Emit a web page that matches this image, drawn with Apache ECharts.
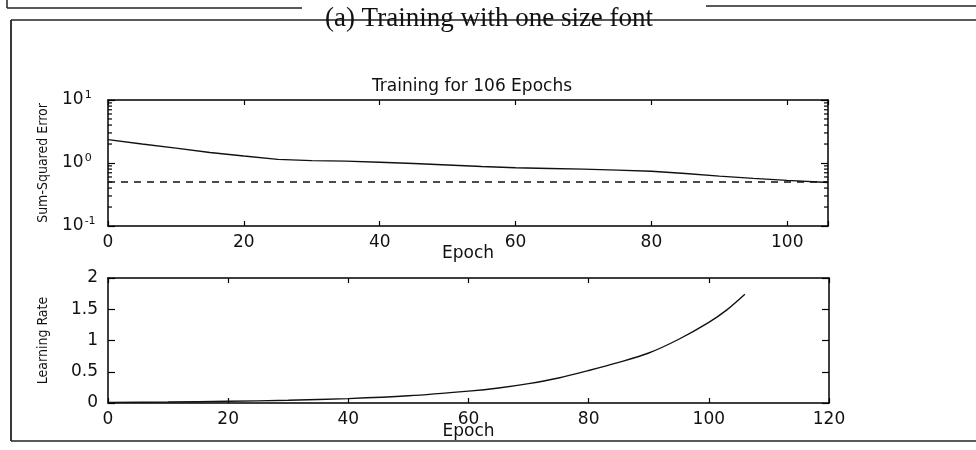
<!DOCTYPE html>
<html>
<head>
<meta charset="utf-8">
<script src="https://cdn.jsdelivr.net/npm/echarts@6/dist/echarts.min.js"></script>
<style>
html,body{margin:0;padding:0;background:#fff;}
#chart{width:976px;height:450px;}
</style>
</head>
<body>
<div id="chart"></div>
<script>
// ---- data ----
const headerText = '(a) Training with one size font';
const titleText = 'Training for 106 Epochs';
const sseEpochs = [0, 5, 10, 15, 20, 25, 30, 35, 40, 45, 50, 55, 60, 65, 70, 75, 80, 85, 90, 95, 100, 106];
const sseValues = [2.35, 2.0, 1.72, 1.47, 1.29, 1.14, 1.09, 1.07, 1.03, 0.98, 0.93, 0.88, 0.84, 0.82, 0.80, 0.77, 0.74, 0.68, 0.62, 0.57, 0.53, 0.49];
const goalEpochs = [0, 106];
const goalValues = [0.5, 0.5];
const lrEpochs = [0, 10, 20, 30, 40, 50, 60, 65, 70, 75, 80, 85, 90, 95, 100, 103, 106];
const lrValues = [0.01, 0.016, 0.027, 0.043, 0.07, 0.115, 0.19, 0.24, 0.31, 0.40, 0.52, 0.65, 0.80, 1.02, 1.29, 1.49, 1.74];
const minorTickValues = [0.2, 0.3, 0.4, 0.5, 0.6, 0.7, 0.8, 0.9, 2, 3, 4, 5, 6, 7, 8, 9];
const topXRange = [0, 106];
const bottomXRange = [0, 120];
const xTickStep = 20;
const lrRange = [0, 2];
const lrTickStep = 0.5;
const sseRange = [0.1, 10];

const zip = (a, b) => a.map((v, i) => [v, b[i]]);
const INK = '#111';
const tickFont = 'DejaVu Sans';
const nameFont = "'Liberation Sans Narrow', 'DejaVu Sans Condensed', 'Arial Narrow', sans-serif";
const axisLineStyle = { color: '#000', width: 1.5 };

function xAxisBase(grid, range, pos, showLabels) {
  const a = {
    gridIndex: grid, type: 'value', min: range[0], max: range[1], interval: xTickStep,
    position: pos,
    axisLine: { show: true, onZero: false, lineStyle: axisLineStyle },
    axisTick: { show: true, inside: true, length: 5, lineStyle: { color: '#000', width: 1.2 } },
    axisLabel: {
      show: showLabels, margin: 8, fontSize: 17, fontFamily: tickFont, color: INK,
      formatter: v => (v % xTickStep === 0 ? String(v) : '')
    },
    splitLine: { show: false }
  };
  if (showLabels) {
    a.name = 'Epoch';
    a.nameLocation = 'middle';
    a.nameMoveOverlap = false;
    a.nameTextStyle = { fontSize: 17, fontFamily: tickFont, color: INK };
  }
  return a;
}

const x0 = xAxisBase(0, topXRange, 'bottom', true); x0.nameGap = 19;
const x1 = xAxisBase(0, topXRange, 'top', false);
const x2 = xAxisBase(1, bottomXRange, 'bottom', true); x2.nameGap = 20;
const x3 = xAxisBase(1, bottomXRange, 'top', false);

const chart = echarts.init(document.getElementById('chart'), null, { renderer: 'canvas' });

const option = {
  animation: false,
  backgroundColor: '#fff',
  title: [
    { text: headerText, left: 484, top: 0, textAlign: 'center',
      textStyle: { fontFamily: "'Liberation Serif', serif", fontSize: 27, fontWeight: 'normal', color: INK } },
    { text: titleText, left: 467, top: 73, textAlign: 'center',
      textStyle: { fontFamily: tickFont, fontSize: 17, fontWeight: 'normal', color: INK } }
  ],
  grid: [
    { left: 108, top: 100, width: 720, height: 126 },
    { left: 108, top: 278, width: 721, height: 125 }
  ],
  xAxis: [x0, x1, x2, x3],
  yAxis: [
    {
      gridIndex: 0, type: 'log', logBase: 10, min: sseRange[0], max: sseRange[1], position: 'left',
      axisLine: { show: true, onZero: false, lineStyle: axisLineStyle },
      axisTick: { show: true, inside: true, length: 7, lineStyle: { color: '#000', width: 1.2 } },
      axisLabel: {
        margin: 46, align: 'left', color: INK,
        formatter: v => '{b|10}{s|' + Math.round(Math.log10(v)) + '}',
        rich: {
          b: { fontSize: 17, fontFamily: tickFont, color: INK },
          s: { fontSize: 11, fontFamily: tickFont, color: INK, padding: [0, 0, 9, 1] }
        }
      },
      splitLine: { show: false },
      name: 'Sum-Squared Error', nameLocation: 'middle', nameGap: 58, nameRotate: 90, nameMoveOverlap: false,
      nameTextStyle: { fontSize: 14, fontFamily: nameFont, color: INK }
    },
    {
      gridIndex: 0, type: 'log', logBase: 10, min: sseRange[0], max: sseRange[1], position: 'right',
      axisLine: { show: true, onZero: false, lineStyle: axisLineStyle },
      axisTick: { show: true, inside: true, length: 7, lineStyle: { color: '#000', width: 1.2 } },
      axisLabel: { show: false }, splitLine: { show: false }
    },
    {
      gridIndex: 1, type: 'value', min: lrRange[0], max: lrRange[1], interval: lrTickStep, position: 'left',
      axisLine: { show: true, onZero: false, lineStyle: axisLineStyle },
      axisTick: { show: true, inside: true, length: 7, lineStyle: { color: '#000', width: 1.2 } },
      axisLabel: { margin: 10, fontSize: 17, fontFamily: tickFont, color: INK },
      splitLine: { show: false },
      name: 'Learning Rate', nameLocation: 'middle', nameGap: 58, nameRotate: 90, nameMoveOverlap: false,
      nameTextStyle: { fontSize: 14, fontFamily: nameFont, color: INK }
    },
    {
      gridIndex: 1, type: 'value', min: lrRange[0], max: lrRange[1], interval: lrTickStep, position: 'right',
      axisLine: { show: true, onZero: false, lineStyle: axisLineStyle },
      axisTick: { show: true, inside: true, length: 7, lineStyle: { color: '#000', width: 1.2 } },
      axisLabel: { show: false }, splitLine: { show: false }
    }
  ],
  series: [
    {
      name: 'Sum-Squared Error', type: 'line', xAxisIndex: 0, yAxisIndex: 0,
      data: zip(sseEpochs, sseValues), symbol: 'none',
      lineStyle: { color: '#111', width: 1.4 }
    },
    {
      name: 'Goal', type: 'line', xAxisIndex: 0, yAxisIndex: 0,
      data: zip(goalEpochs, goalValues), symbol: 'none',
      lineStyle: { color: '#111', width: 1.4, type: [7, 6] }
    },
    {
      name: 'Learning Rate', type: 'line', xAxisIndex: 2, yAxisIndex: 2,
      data: zip(lrEpochs, lrValues), symbol: 'none', smooth: 0.3,
      lineStyle: { color: '#111', width: 1.4 }
    },
    {
      name: 'minor ticks', type: 'custom', xAxisIndex: 0, yAxisIndex: 0, silent: true,
      data: minorTickValues.map(v => [topXRange[0], v]),
      encode: { x: 0, y: 1 },
      renderItem: function (params, api) {
        const v = api.value(1);
        const pL = api.coord([topXRange[0], v]);
        const pR = api.coord([topXRange[1], v]);
        const st = { stroke: '#000', lineWidth: 1.2 };
        return {
          type: 'group',
          children: [
            { type: 'line', shape: { x1: pL[0], y1: pL[1], x2: pL[0] + 4, y2: pL[1] }, style: st },
            { type: 'line', shape: { x1: pR[0] - 4, y1: pR[1], x2: pR[0], y2: pR[1] }, style: st }
          ]
        };
      }
    }
  ],
  graphic: [
    { type: 'line', shape: { x1: 7, y1: 0, x2: 7, y2: 8 }, style: { stroke: '#222', lineWidth: 1.5 } },
    { type: 'line', shape: { x1: 7, y1: 8, x2: 302, y2: 8 }, style: { stroke: '#222', lineWidth: 1.5 } },
    { type: 'line', shape: { x1: 706, y1: 6, x2: 976, y2: 6 }, style: { stroke: '#222', lineWidth: 1.5 } },
    { type: 'line', shape: { x1: 11, y1: 20, x2: 976, y2: 20 }, style: { stroke: '#222', lineWidth: 1.5 } },
    { type: 'line', shape: { x1: 11, y1: 20, x2: 11, y2: 441 }, style: { stroke: '#222', lineWidth: 1.8 } },
    { type: 'line', shape: { x1: 11, y1: 441, x2: 976, y2: 441 }, style: { stroke: '#222', lineWidth: 1.5 } }
  ]
};
chart.setOption(option);
</script>
</body>
</html>
